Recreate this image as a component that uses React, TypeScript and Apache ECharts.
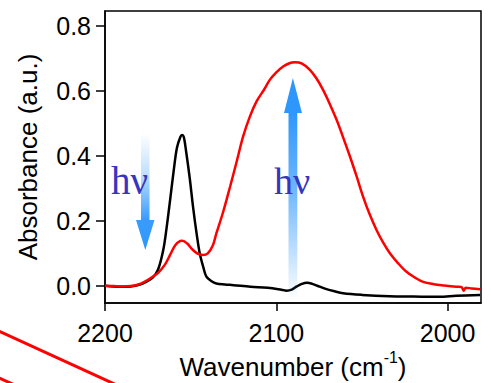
import React, { useEffect, useRef } from "react";
import * as echarts from "echarts";

const xTicks = [2200, 2100, 2000];
const yTicks = [0, 0.2, 0.4, 0.6, 0.8];

const blackWn = [2200, 2195, 2190, 2185, 2180, 2176, 2172, 2169, 2166, 2164, 2162, 2160, 2158, 2156, 2155, 2154, 2152.5, 2150.5, 2148.6, 2146.5, 2144.7, 2142.5, 2140.8, 2138, 2135, 2130, 2125, 2115, 2105, 2097, 2094, 2091, 2088, 2085, 2082, 2079, 2076, 2072, 2066, 2061, 2050, 2034, 2020, 2005, 1995, 1981];
const blackAbs = [0.0, -0.002, -0.003, -0.002, 0.003, 0.012, 0.026, 0.05, 0.11, 0.18, 0.264, 0.35, 0.425, 0.458, 0.464, 0.458, 0.408, 0.33, 0.243, 0.16, 0.1, 0.055, 0.028, 0.015, 0.007, 0.004, 0.002, -0.003, -0.006, -0.012, -0.015, -0.012, -0.002, 0.006, 0.009, 0.006, 0.0, -0.008, -0.017, -0.023, -0.028, -0.032, -0.033, -0.034, -0.031, -0.028];

const redWn = [2200, 2195, 2190, 2185, 2181, 2177, 2173, 2169, 2165, 2162, 2159, 2156, 2154.8, 2152, 2149, 2146, 2143, 2140, 2137, 2135, 2131, 2127, 2123, 2119.4, 2115.5, 2111.6, 2107, 2103.8, 2100, 2096, 2092, 2089.2, 2085, 2080.4, 2076.5, 2072.7, 2068.8, 2064.8, 2061, 2057, 2053, 2049.3, 2045.5, 2041.5, 2037.5, 2033.7, 2029, 2024, 2019, 2014.3, 2008, 2002, 1995, 1992, 1990.5, 1989.5, 1986, 1981];
const redAbs = [0.0, -0.001, -0.002, -0.001, 0.003, 0.012, 0.025, 0.04, 0.065, 0.095, 0.125, 0.138, 0.139, 0.13, 0.112, 0.099, 0.095, 0.1, 0.125, 0.161, 0.228, 0.305, 0.385, 0.459, 0.52, 0.567, 0.605, 0.634, 0.657, 0.675, 0.686, 0.688, 0.684, 0.665, 0.638, 0.603, 0.56, 0.511, 0.457, 0.398, 0.335, 0.274, 0.22, 0.172, 0.132, 0.1, 0.07, 0.043, 0.025, 0.012, 0.005, 0.001, -0.003, -0.004, -0.015, -0.006, -0.008, -0.011];

const FONT = "Liberation Sans, Arial, sans-serif";
const ARROW = "46,151,251";

export default function App() {
  const ref = useRef<HTMLDivElement>(null);
  useEffect(() => {
    if (!ref.current) return;
    const chart = echarts.init(ref.current, undefined, { renderer: "svg" });
    const zip = (xs: number[], ys: number[]) => xs.map((x, i) => [x, ys[i]]);
    chart.setOption({
      animation: false,
      backgroundColor: "#fff",
      grid: {
        left: 105,
        right: 10,
        top: 11,
        bottom: 80,
        show: true,
        borderColor: "#000",
        borderWidth: 1.5,
        containLabel: false,
        outerBoundsMode: "none",
      },
      xAxis: {
        type: "value",
        min: 1980.5,
        max: 2200,
        inverse: true,
        name: "Wavenumber (cm{sup|-1})",
        nameLocation: "middle",
        nameGap: 40,
        nameTextStyle: {
          fontFamily: FONT,
          fontSize: 26,
          color: "#000",
          lineHeight: 34,
          rich: {
            sup: { fontFamily: FONT, fontSize: 16, color: "#000", verticalAlign: "top", lineHeight: 34 },
          },
        },
        axisLine: { onZero: false, lineStyle: { color: "#000", width: 1.5 } },
        axisTick: { show: true, length: 8, inside: false, customValues: xTicks, lineStyle: { color: "#000", width: 1.5 } },
        axisLabel: {
          customValues: xTicks,
          margin: 17,
          fontFamily: FONT,
          fontSize: 25,
          color: "#000",
          formatter: (v: number) => String(Math.round(v)),
        },
        splitLine: { show: false },
      },
      yAxis: {
        type: "value",
        min: -0.053,
        max: 0.846,
        name: "Absorbance (a.u.)",
        nameLocation: "middle",
        nameGap: 64,
        nameTextStyle: { fontFamily: FONT, fontSize: 26, color: "#000" },
        axisLine: { onZero: false, lineStyle: { color: "#000", width: 1.5 } },
        axisTick: { show: true, length: 9, inside: false, customValues: yTicks, lineStyle: { color: "#000", width: 1.5 } },
        axisLabel: {
          customValues: yTicks,
          margin: 14,
          fontFamily: FONT,
          fontSize: 25,
          color: "#000",
          formatter: (v: number) => v.toFixed(1),
        },
        splitLine: { show: false },
      },
      series: [
        {
          type: "line",
          data: zip(blackWn, blackAbs),
          showSymbol: false,
          smooth: 0.35,
          lineStyle: { color: "#000", width: 2.5 },
          z: 3,
        },
        {
          type: "line",
          data: zip(redWn, redAbs),
          showSymbol: false,
          smooth: 0.35,
          lineStyle: { color: "#ff0000", width: 2.5 },
          z: 4,
        },
      ],
      graphic: [
        {
          type: "polygon",
          z: 10,
          shape: {
            points: [[141, 133], [149.5, 133], [149.5, 220], [154.5, 220], [145.3, 250], [136, 220], [141, 220]],
          },
          style: {
            fill: new echarts.graphic.LinearGradient(0, 0, 0, 1, [
              { offset: 0, color: `rgba(${ARROW},0)` },
              { offset: 0.35, color: `rgba(${ARROW},0.3)` },
              { offset: 0.74, color: `rgba(${ARROW},0.95)` },
              { offset: 1, color: `rgba(${ARROW},1)` },
            ]),
          },
        },
        {
          type: "polygon",
          z: 10,
          shape: {
            points: [[292.9, 78], [302, 113], [297.3, 113], [297.3, 300], [288.5, 300], [288.5, 113], [284, 113]],
          },
          style: {
            fill: new echarts.graphic.LinearGradient(0, 0, 0, 1, [
              { offset: 0, color: `rgba(${ARROW},1)` },
              { offset: 0.16, color: `rgba(${ARROW},1)` },
              { offset: 0.5, color: `rgba(${ARROW},0.7)` },
              { offset: 1, color: `rgba(${ARROW},0)` },
            ]),
          },
        },
        {
          type: "text",
          z: 11,
          x: 111,
          y: 200,
          style: {
            text: "hν",
            font: "39px 'Liberation Serif', 'Times New Roman', serif",
            fill: "#3535c0",
            verticalAlign: "bottom",
          },
        },
        {
          type: "text",
          z: 11,
          x: 274,
          y: 200,
          style: {
            text: "hν",
            font: "38px 'Liberation Serif', 'Times New Roman', serif",
            fill: "#3535c0",
            verticalAlign: "bottom",
          },
        },
        {
          type: "line",
          z: 12,
          shape: { x1: -5, y1: 329.4, x2: 125, y2: 388.8 },
          style: { stroke: "#ff0000", lineWidth: 3 },
        },
        {
          type: "line",
          z: 12,
          shape: { x1: -5, y1: 376, x2: 25, y2: 389.7 },
          style: { stroke: "#ff0000", lineWidth: 3 },
        },
      ],
    });
    return () => chart.dispose();
  }, []);
  return (
    <div
      ref={ref}
      style={{ position: "fixed", left: 0, top: 0, width: 491, height: 383 }}
    />
  );
}
